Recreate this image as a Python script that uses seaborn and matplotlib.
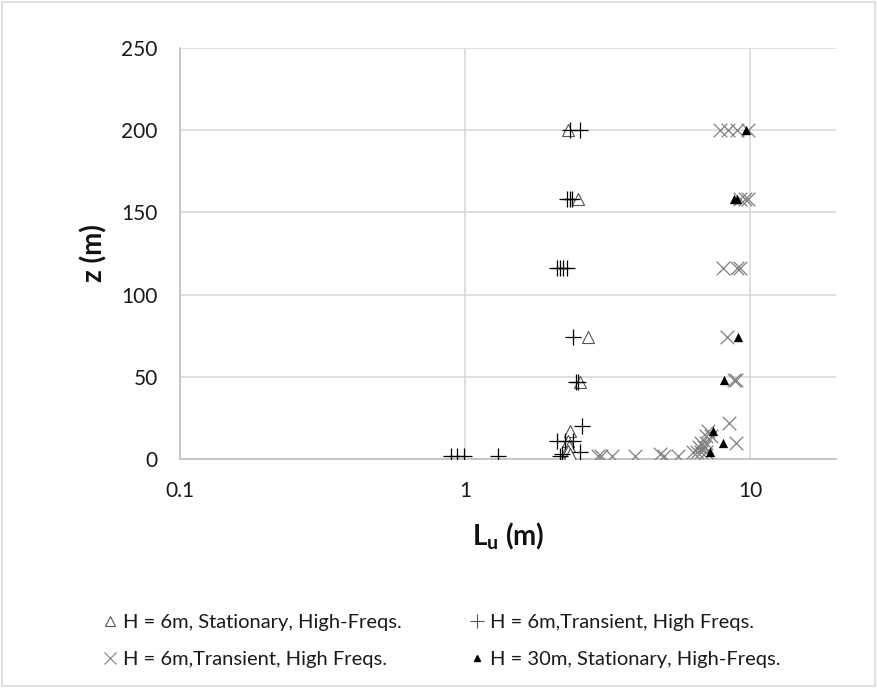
import numpy as np
import pandas as pd
import matplotlib
matplotlib.use("Agg")
import matplotlib.pyplot as plt
from matplotlib.lines import Line2D
from matplotlib.patches import Rectangle
import seaborn as sns

# ---- data ----
stat6_z = [200, 158, 74, 47, 17, 11, 8, 5, 3]
stat6_lu = [2.30, 2.49, 2.70, 2.52, 2.34, 2.30, 2.32, 2.30, 2.33]

trans6_z = [200, 200, 158, 158, 158, 116, 116, 116, 116, 74, 47, 47, 20,
            11, 11, 11, 4, 3, 2, 2, 2, 2, 2]
trans6_lu = [2.34, 2.53, 2.28, 2.33, 2.37, 2.10, 2.15, 2.21, 2.28, 2.39, 2.45, 2.48, 2.57,
             2.10, 2.25, 2.40, 2.53, 2.19, 2.15, 0.89, 0.94, 0.99, 1.30]

trans6hf_z = [200, 200, 200, 200, 158, 158, 158, 116, 116, 116, 74, 48, 48, 22,
              17, 14, 14, 10, 10, 10, 7, 7, 4, 4, 4, 4,
              2, 2, 2, 2, 3, 2, 2]
trans6hf_lu = [7.86, 8.37, 9.0, 9.83, 9.2, 9.6, 9.8, 8.04, 9.0, 9.2, 8.3, 8.8, 8.9, 8.4,
               7.1, 7.0, 7.3, 6.7, 7.0, 8.9, 6.6, 6.9, 6.3, 6.5, 6.7, 7.0,
               2.93, 3.0, 3.28, 3.95, 4.83, 5.0, 5.6]

stat30_z = [200, 158, 158, 74, 48, 17, 10, 4]
stat30_lu = [9.69, 8.8, 9.0, 9.06, 8.1, 7.4, 8.05, 7.2]

labels = ["H = 6m, Stationary, High-Freqs.",
          "H = 6m,Transient, High Freqs.",
          "H = 6m,Transient, High Freqs.",
          "H = 30m, Stationary, High-Freqs."]

x_ticks = [0.1, 1, 10]
x_tick_labels = ["0.1", "1", "10"]
y_ticks = [0, 50, 100, 150, 200, 250]

sns.set_theme(style="white")
plt.rcParams['font.family'] = ['Lato', 'DejaVu Sans']
plt.rcParams['mathtext.fontset'] = 'custom'
plt.rcParams['mathtext.rm'] = 'Lato'
plt.rcParams['mathtext.bf'] = 'Lato:bold'

fig = plt.figure(figsize=(8.77, 6.88), dpi=100)
ax = fig.add_axes([180/877, 1-459/688, (836-180)/877, (459-48)/688])

grid_c = "#d9d9d9"
styles = [
    dict(marker="^", s=75, facecolor="white", edgecolor="#555555", linewidth=0.8),
    dict(marker="+", s=125, color="black", linewidth=0.9),
    dict(marker="x", s=95, color="#7f7f7f", linewidth=0.9),
    dict(marker="^", s=45, color="black", linewidth=0),
]
series = [(stat6_lu, stat6_z), (trans6_lu, trans6_z), (trans6hf_lu, trans6hf_z), (stat30_lu, stat30_z)]
for (xs, zs), st, lab in zip(series, styles, labels):
    df = pd.DataFrame({"Lu": xs, "z": zs})
    sns.scatterplot(data=df, x="Lu", y="z", ax=ax, legend=False, zorder=3, **st)

ax.set_xscale("log")
ax.set_xlim(0.1, 20)
ax.set_ylim(0, 250)
ax.set_xticks(x_ticks)
ax.set_xticklabels(x_tick_labels)
ax.xaxis.set_minor_locator(matplotlib.ticker.NullLocator())
ax.set_yticks(y_ticks)
ax.grid(True, which="major", color=grid_c, linewidth=1.2, zorder=0)
ax.set_axisbelow(True)
for sp in ["top", "right"]:
    ax.spines[sp].set_visible(False)
for sp in ["left", "bottom"]:
    ax.spines[sp].set_color("#bfbfbf")
    ax.spines[sp].set_linewidth(1.2)
ax.tick_params(axis="both", length=0, labelsize=15, colors="#1a1a1a")
ax.tick_params(axis="y", pad=16)
ax.tick_params(axis="x", pad=16)

ax.set_xlabel(r"$\mathbf{L_u}$ (m)", fontsize=20, fontweight="bold", labelpad=14, color="#111111")
ax.set_ylabel("z (m)", fontsize=20, fontweight="bold", labelpad=10, color="#111111")

handles = [
    Line2D([], [], linestyle="none", marker="^", markersize=7, markerfacecolor="white",
           markeredgecolor="#555555", markeredgewidth=0.8),
    Line2D([], [], linestyle="none", marker="x", markersize=9, color="#7f7f7f", markeredgewidth=0.8),
    Line2D([], [], linestyle="none", marker="+", markersize=10, color="#555555", markeredgewidth=0.8),
    Line2D([], [], linestyle="none", marker="^", markersize=5, color="black"),
]
leg_labels = [labels[0], labels[2], labels[1], labels[3]]
fig.legend(handles, leg_labels, ncol=2, loc="center left", bbox_to_anchor=(84/877, 1-641/688),
           frameon=False, fontsize=14.5, handlelength=0.8, handletextpad=0.25,
           columnspacing=3.3, labelspacing=0.95, labelcolor="#1a1a1a")

fig.patches.append(Rectangle((2/877, 2/688), 873/877, 684/688, transform=fig.transFigure,
                             fill=False, edgecolor="#d9d9d9", linewidth=1.2))

fig.savefig("out.png", dpi=100)
